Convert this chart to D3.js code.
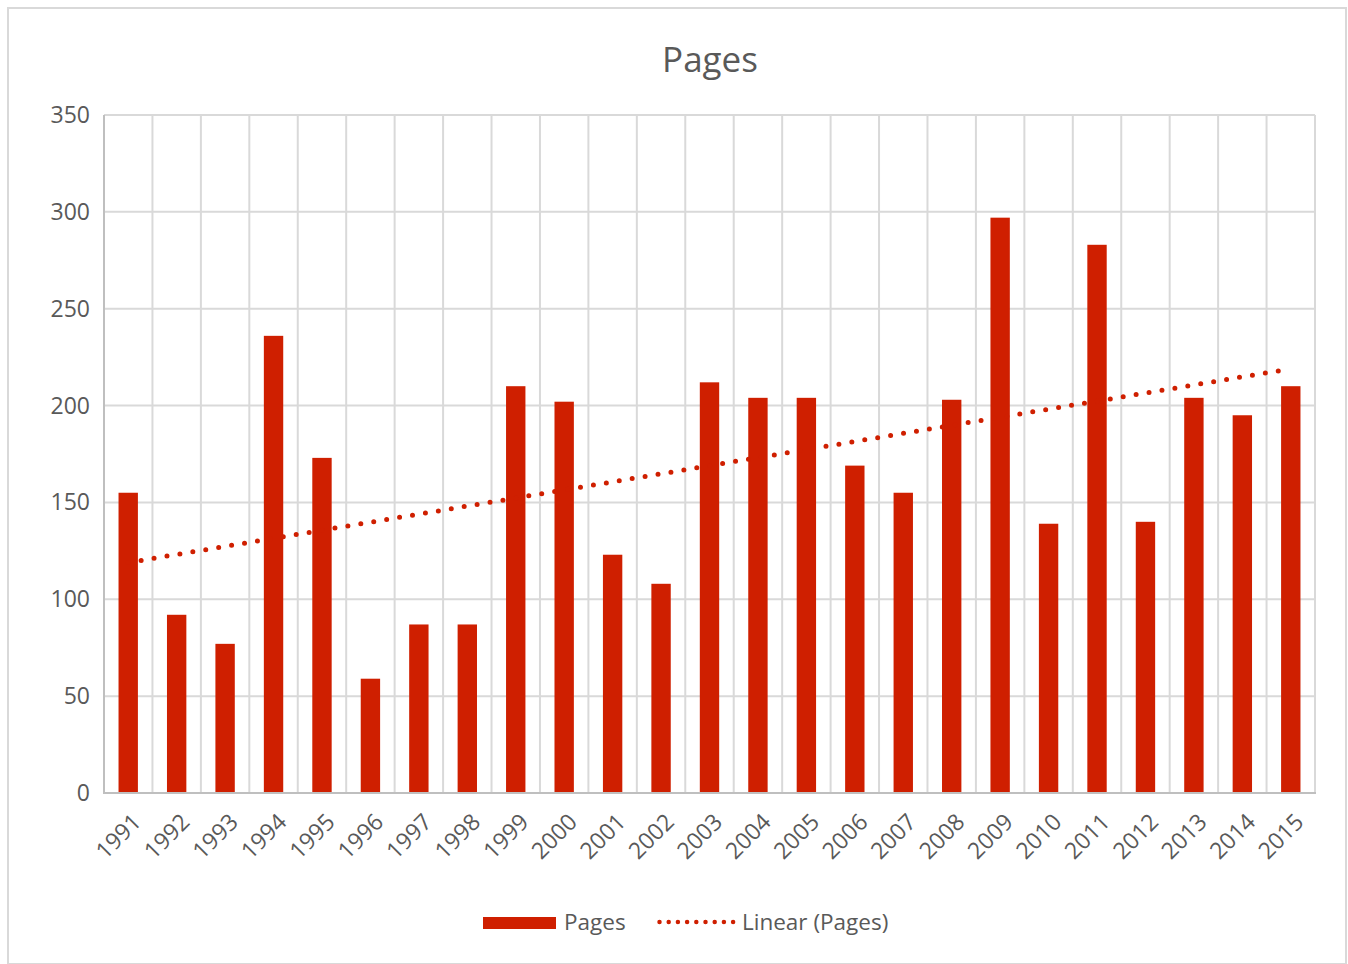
<!DOCTYPE html>
<html>
<head>
<meta charset="utf-8">
<script src="https://cdn.jsdelivr.net/npm/d3@7"></script>
<style>
  html, body { margin: 0; padding: 0; background: #fff; }
  svg { display: block; font-family: "Open Sans", sans-serif; }
</style>
</head>
<body>
<svg id="chart" width="1348" height="964"></svg>
<script>
// data
const years = ['1991','1992','1993','1994','1995','1996','1997','1998','1999','2000','2001','2002','2003',
  '2004','2005','2006','2007','2008','2009','2010','2011','2012','2013','2014','2015'];
const pages = [155, 92, 77, 236, 173, 59, 87, 87, 210, 202, 123, 108, 212,
  204, 204, 169, 155, 203, 297, 139, 283, 140, 204, 195, 210];
const yTicks = [0, 50, 100, 150, 200, 250, 300, 350];

const RED = '#cf1f00';
const GRID = '#d9d9d9';
const AXIS = '#bfbfbf';
const TEXT = '#595959';

const svg = d3.select('#chart');
const plot = { left: 104, right: 1315, top: 115, bottom: 793 };

// chart frame
svg.append('rect')
  .attr('x', 8).attr('y', 8).attr('width', 1338).attr('height', 956)
  .attr('fill', '#fff').attr('stroke', GRID).attr('stroke-width', 2);

const x = d3.scaleBand().domain(years).range([plot.left, plot.right]).padding(0);
const y = d3.scaleLinear().domain([0, 350]).range([plot.bottom, plot.top]);

// ---- grid ----
const grid = svg.append('g');
grid.selectAll('line.h')
  .data(yTicks.filter((t) => t > 0))
  .join('line')
  .attr('x1', plot.left).attr('x2', plot.right)
  .attr('y1', (d) => y(d)).attr('y2', (d) => y(d))
  .attr('stroke', GRID).attr('stroke-width', 2);
grid.selectAll('line.v')
  .data(years.slice(1).map((yr) => x(yr)).concat([plot.right]))
  .join('line')
  .attr('x1', (d) => d).attr('x2', (d) => d)
  .attr('y1', plot.top).attr('y2', plot.bottom)
  .attr('stroke', GRID).attr('stroke-width', 2);

// ---- bars ----
const barW = x.bandwidth() / 2.5;
svg.append('g')
  .selectAll('rect')
  .data(years.map((yr, i) => ({ yr, v: pages[i] })))
  .join('rect')
  .attr('x', (d) => x(d.yr) + (x.bandwidth() - barW) / 2)
  .attr('y', (d) => y(d.v))
  .attr('width', barW)
  .attr('height', (d) => y(0) - y(d.v))
  .attr('fill', RED);

// ---- linear trend (least squares on the data) ----
const n = pages.length;
const xs = d3.range(1, n + 1);
const mx = d3.mean(xs), my = d3.mean(pages);
const slope = d3.sum(xs, (v, i) => (v - mx) * (pages[i] - my)) / d3.sum(xs, (v) => (v - mx) ** 2);
const icpt = my - slope * mx;
const trend = [
  { yr: years[0], v: icpt + slope * 1 },
  { yr: years[n - 1], v: icpt + slope * n },
];
svg.append('path')
  .datum(trend)
  .attr('d', d3.line().x((d) => x(d.yr) + x.bandwidth() / 2).y((d) => y(d.v)))
  .attr('fill', 'none')
  .attr('stroke', RED)
  .attr('stroke-width', 5)
  .attr('stroke-linecap', 'round')
  .attr('stroke-dasharray', '0 13.1');

// ---- axes ----
svg.append('line')
  .attr('x1', plot.left).attr('x2', plot.left)
  .attr('y1', plot.top).attr('y2', plot.bottom + 1)
  .attr('stroke', AXIS).attr('stroke-width', 2);
svg.append('line')
  .attr('x1', plot.left - 1).attr('x2', plot.right + 1)
  .attr('y1', plot.bottom).attr('y2', plot.bottom)
  .attr('stroke', AXIS).attr('stroke-width', 2);

svg.append('g')
  .selectAll('text')
  .data(yTicks)
  .join('text')
  .attr('x', 90)
  .attr('y', (d) => y(d))
  .attr('dy', '0.35em')
  .attr('text-anchor', 'end')
  .attr('font-size', 23)
  .attr('fill', TEXT)
  .text((d) => d);

svg.append('g')
  .selectAll('text')
  .data(years)
  .join('text')
  .attr('text-anchor', 'end')
  .attr('font-size', 23)
  .attr('fill', TEXT)
  .attr('transform', (d) => `translate(${x(d) + x.bandwidth() / 2 + 3},${plot.bottom + 19}) rotate(-45)`)
  .attr('dy', '0.7em')
  .text((d) => d);

// ---- title ----
svg.append('text')
  .attr('x', 710).attr('y', 72)
  .attr('text-anchor', 'middle')
  .attr('font-size', 35)
  .attr('fill', TEXT)
  .text('Pages');

// ---- legend ----
const lg = svg.append('g');
lg.append('rect')
  .attr('x', 483).attr('y', 917).attr('width', 73).attr('height', 12)
  .attr('fill', RED);
lg.append('text')
  .attr('x', 564).attr('y', 930)
  .attr('font-size', 22.5).attr('fill', TEXT)
  .text('Pages');
lg.append('line')
  .attr('x1', 659.5).attr('x2', 734).attr('y1', 922).attr('y2', 922)
  .attr('stroke', RED).attr('stroke-width', 4.5)
  .attr('stroke-linecap', 'round')
  .attr('stroke-dasharray', '0 9.2');
lg.append('text')
  .attr('x', 742).attr('y', 930)
  .attr('font-size', 22.5).attr('fill', TEXT)
  .text('Linear (Pages)');
</script>
</body>
</html>
